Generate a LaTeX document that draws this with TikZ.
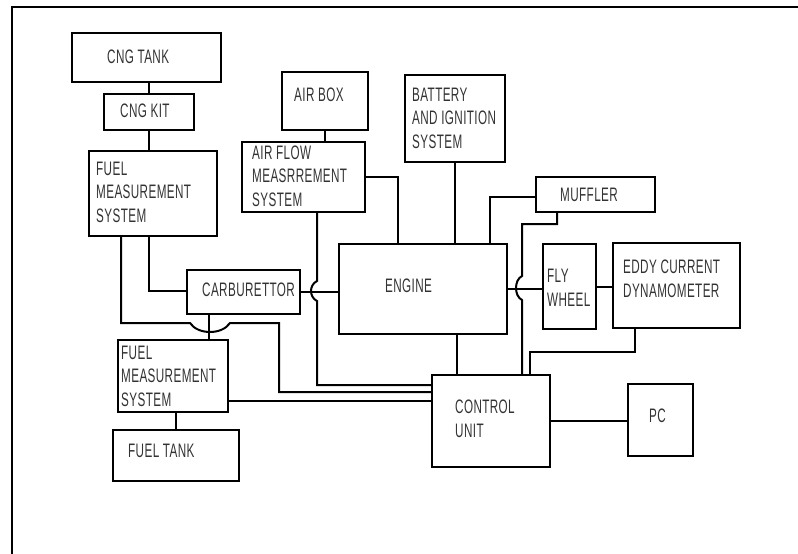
\documentclass[tikz,border=0pt]{standalone}
\usepackage{fontspec}
\setmainfont{Liberation Sans}[FakeStretch=0.6,LetterSpace=2]

\begin{document}
\begin{tikzpicture}
[
	x=1pt, y=-1pt,
	box/.style={draw,line width=2pt,inner sep=0pt,anchor=north west},
	lbl/.style={anchor=base west,inner sep=0pt,text=black!80,align=left,font=\fontsize{19.5}{23.5}\selectfont},
	wire/.style={line width=2pt}
]

	\useasboundingbox (0,0) rectangle (798,554);

	% frame
	\draw[line width=2.5pt] (12,7) rectangle (830,590);

	% fuel side
	\node[box,minimum width=149,minimum height=49] (cngtank) at (71,32) {};
	\node[box,minimum width=90,minimum height=36] (cngkit) at (103,93) {};
	\node[box,minimum width=128,minimum height=85] (fmstop) at (88,150) {};
	\node[box,minimum width=113,minimum height=44] (carb) at (186,269) {};
	\node[box,minimum width=110,minimum height=72] (fmsbot) at (117,339) {};
	\node[box,minimum width=126,minimum height=51] (fueltank) at (112,429) {};

	% air side
	\node[box,minimum width=86,minimum height=58] (airbox) at (281,71) {};
	\node[box,minimum width=123,minimum height=70] (airflow) at (241,141) {};
	\node[box,minimum width=100,minimum height=87] (battery) at (404,74) {};

	% engine and load
	\node[box,minimum width=168,minimum height=90] (engine) at (338,243) {};
	\node[box,minimum width=119,minimum height=35] (muffler) at (535,176) {};
	\node[box,minimum width=53,minimum height=85] (flywheel) at (542,243) {};
	\node[box,minimum width=127,minimum height=85] (eddy) at (612,242) {};

	% control
	\node[box,minimum width=118,minimum height=92] (cu) at (431,374) {};
	\node[box,minimum width=65,minimum height=72] (pc) at (627,383) {};

	% labels (multi-line ones sit on their last line)
	\node[lbl] (cngtanktxt) at (107,63) {CNG TANK};
	\node[lbl] (cngkittxt) at (120,117) {CNG KIT};
	\node[lbl] (fmstoptxt) at (96,222) {FUEL\\MEASUREMENT\\SYSTEM};
	\node[lbl] (carbtxt) at (202,296) {CARBURETTOR};
	\node[lbl] (fmsbottxt) at (121,406) {FUEL\\MEASUREMENT\\SYSTEM};
	\node[lbl] (fueltanktxt) at (128,457) {FUEL TANK};
	\node[lbl] (airboxtxt) at (294,101) {AIR BOX};
	\node[lbl] (airflowtxt) at (252,206) {AIR FLOW\\MEASRREMENT\\SYSTEM};
	\node[lbl] (batterytxt) at (412,148) {BATTERY\\AND IGNITION\\SYSTEM};
	\node[lbl] (enginetxt) at (385,292) {ENGINE};
	\node[lbl] (mufflertxt) at (560,201) {MUFFLER};
	\node[lbl] (flywheeltxt) at (547,306) {FLY\\WHEEL};
	\node[lbl] (eddytxt) at (623,297) {EDDY CURRENT\\DYNAMOMETER};
	\node[lbl] (cutxt) at (455,437) {CONTROL\\UNIT};
	\node[lbl] (pctxt) at (649,422) {PC};

	% cng line
	\draw[wire] (cngkit.north) -- (cngkit.north |- cngtank.south);
	\draw[wire] (cngkit.south) -- (cngkit.south |- fmstop.north);

	% fuel measurement to carburettor
	\coordinate (fb) at (149,291);
	\draw[wire] (fb |- fmstop.south) -- (fb) -- (fb -| carb.west);

	% fuel measurement to control unit, hop over carburettor leg
	\coordinate (fa) at (121,323);
	\coordinate (ha) at (190,323);
	\coordinate (hb) at (230,323);
	\coordinate (fc) at (279,323);
	\coordinate (fd) at (279,392);
	\draw[wire] (fa |- fmstop.south) -- (fa) -- (ha)
	  .. controls +(8,12) and +(-8,12) .. (hb) -- (fc) -- (fd) -- (fd -| cu.west);

	% carburettor to lower fuel measurement
	\coordinate (cv) at (209,320);
	\draw[wire] (cv |- carb.south) -- (cv |- fmsbot.north);

	% lower fuel measurement
	\coordinate (fe) at (227,401);
	\draw[wire] (fe) -- (fe -| cu.west);
	\draw[wire] (fueltank.north) -- (fueltank.north |- fmsbot.south);

	% air line
	\draw[wire] (airbox.south) -- (airbox.south |- airflow.north);
	\coordinate (ae) at (398,177);
	\draw[wire] (airflow.east |- ae) -- (ae) -- (ae |- engine.north);

	% air flow to control unit, hop over carburettor line
	\coordinate (aa) at (317,281);
	\coordinate (ab) at (317,301);
	\coordinate (ac) at (317,385);
	\draw[wire] (aa |- airflow.south) -- (aa)
	  .. controls +(-8,4) and +(-8,-4) .. (ab) -- (ac) -- (ac -| cu.west);

	\draw[wire] (carb.east) -- (carb.east -| engine.west);
	\draw[wire] (battery.south) -- (battery.south |- engine.north);

	% muffler
	\coordinate (ma) at (490,197);
	\draw[wire] (muffler.west |- ma) -- (ma) -- (ma |- engine.north);
	\coordinate (mb) at (557,224);
	\coordinate (mc) at (522,224);
	\coordinate (md) at (522,276);
	\coordinate (me) at (522,300);
	\draw[wire] (mb |- muffler.south) -- (mb) -- (mc) -- (md)
	  .. controls +(-8,4) and +(-8,-4) .. (me) -- (me |- cu.north);

	% shaft
	\draw[wire] (engine.east) -- (engine.east -| flywheel.west);
	\draw[wire] (flywheel.east) -- (flywheel.east -| eddy.west);

	% dynamometer to control unit
	\coordinate (da) at (635,352);
	\coordinate (db) at (530,352);
	\draw[wire] (da |- eddy.south) -- (da) -- (db) -- (db |- cu.north);

	% engine to control unit
	\coordinate (ec) at (457,350);
	\draw[wire] (ec |- engine.south) -- (ec |- cu.north);

	% pc
	\draw[wire] (cu.east) -- (cu.east -| pc.west);

\end{tikzpicture}
\end{document}
